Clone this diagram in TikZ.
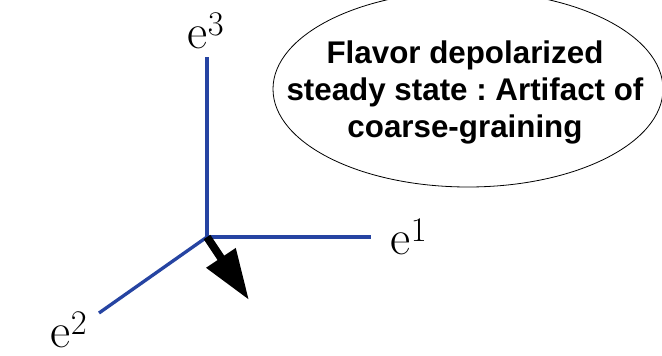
\documentclass[tikz,border=0pt]{standalone}
\usepackage{fontspec}
\usepackage{xcolor}
\usepackage{tikz}
\usetikzlibrary{positioning,arrows.meta,shapes.geometric}
\newfontfamily\notefont{Liberation Sans}
\definecolor{axisblue}{RGB}{38,68,162}
\frenchspacing

\begin{document}
\begin{tikzpicture}[x=0.75pt,y=0.75pt,
  axis/.style={draw=axisblue,line width=2.5pt},
  lbl/.style={inner sep=0pt,anchor=base,font=\fontsize{37}{40}\selectfont},
  bubble/.style={draw,ellipse,line width=0.6pt,inner sep=0pt,minimum width=292.5pt,minimum height=147pt},
  notetext/.style={align=center,inner sep=0pt,font=\notefont\bfseries\fontsize{23.5}{27.75}\selectfont}]
  \useasboundingbox (0,0) rectangle (662,355);
  \clip (0,0) rectangle (662,355);
  % frame
  \coordinate (o) at (207,118);
  \coordinate (a1) at (371,118);
  \coordinate (a2) at (99,42);
  \coordinate (a3) at (207,298);
  \coordinate (tip) at (249,55);
  \draw[axis] (o) -- (a1);
  \draw[axis] (o) -- (a2);
  \draw[axis] (o) -- (a3);
  \draw[line width=6pt,-{Triangle[length=38pt,width=25pt]}] (o) -- (tip);
  \node[lbl] (e1) at (409,101) {e\textsuperscript{1}};
  \node[lbl] (e2) at (69,8) {e\textsuperscript{2}};
  \node[lbl] (e3) at (206,307) {e\textsuperscript{3}};
  % comment bubble
  \node[bubble] (bubble) at (468,266) {};
  \node[notetext] (note) at (465,263) {Flavor depolarized\\steady state : Artifact of\\coarse-graining};
\end{tikzpicture}
\end{document}
